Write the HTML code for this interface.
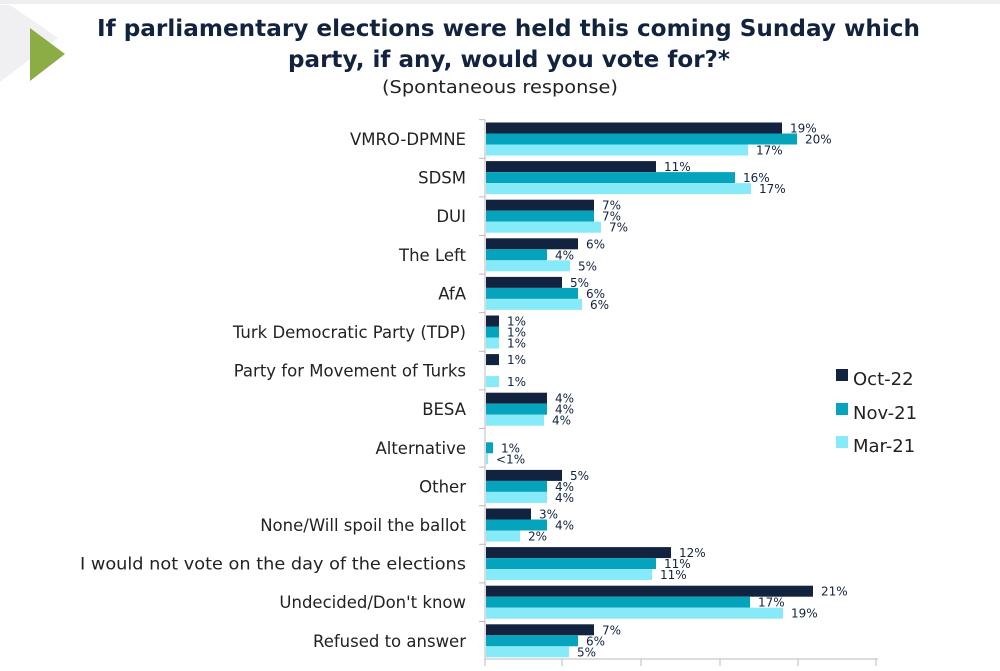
<!DOCTYPE html><html><head><style>body{margin:0;width:1000px;height:666px;background:#fff;overflow:hidden}
svg{font-family:"DejaVu Sans","Liberation Sans",sans-serif}
.l{font-size:16.5px;fill:#222;text-anchor:end}.v{font-size:12px;fill:#12233f}.a{fill:#12233f}.b{fill:#06a3bd}.c{fill:#86eaf9}</style></head><body>
<svg width="1000" height="666" xmlns="http://www.w3.org/2000/svg">
<rect width="1000" height="4" fill="#eee"/>
<polygon points="0,5 0,82 58,38 10,5" fill="#f0f0f2"/>
<polygon points="30,28 30,81 65,54" fill="#8cad45"/>
<g fill="#12233f" font-weight="bold" font-size="23">
<text x="97" y="36" textLength="823" lengthAdjust="spacingAndGlyphs">If parliamentary elections were held this coming Sunday which</text>
<text x="288" y="67" textLength="442" lengthAdjust="spacingAndGlyphs">party, if any, would you vote for?*</text></g>
<text x="382" y="93" font-size="18" fill="#222" textLength="236" lengthAdjust="spacingAndGlyphs">(Spontaneous response)</text>

<g transform="translate(0,122.5)"><text class="l" x="466" y="22.5">VMRO-DPMNE</text><line x1="479" y1="-2.8" x2="485" y2="-2.8" stroke="#bbb"/>
<rect class="a" x="486" y="0" width="296" height="11"/><rect class="b" x="486" y="11" width="311" height="11"/><rect class="c" x="486" y="22" width="262" height="11"/>
<text class="v" x="790" y="10">19%</text><text class="v" x="805" y="21">20%</text><text class="v" x="756" y="32">17%</text></g>

<g transform="translate(0,161.1)"><text class="l" x="466" y="22.5">SDSM</text><line x1="479" y1="-2.8" x2="485" y2="-2.8" stroke="#bbb"/>
<rect class="a" x="486" y="0" width="170" height="11"/><rect class="b" x="486" y="11" width="249" height="11"/><rect class="c" x="486" y="22" width="265" height="11"/>
<text class="v" x="664" y="10">11%</text><text class="v" x="743" y="21">16%</text><text class="v" x="759" y="32">17%</text></g>

<g transform="translate(0,199.7)"><text class="l" x="466" y="22.5">DUI</text><line x1="479" y1="-2.8" x2="485" y2="-2.8" stroke="#bbb"/>
<rect class="a" x="486" y="0" width="108" height="11"/><rect class="b" x="486" y="11" width="108" height="11"/><rect class="c" x="486" y="22" width="115" height="11"/>
<text class="v" x="602" y="10">7%</text><text class="v" x="602" y="21">7%</text><text class="v" x="609" y="32">7%</text></g>

<g transform="translate(0,238.3)"><text class="l" x="466" y="22.5">The Left</text><line x1="479" y1="-2.8" x2="485" y2="-2.8" stroke="#bbb"/>
<rect class="a" x="486" y="0" width="92" height="11"/><rect class="b" x="486" y="11" width="61" height="11"/><rect class="c" x="486" y="22" width="84" height="11"/>
<text class="v" x="586" y="10">6%</text><text class="v" x="555" y="21">4%</text><text class="v" x="578" y="32">5%</text></g>

<g transform="translate(0,276.9)"><text class="l" x="466" y="22.5">AfA</text><line x1="479" y1="-2.8" x2="485" y2="-2.8" stroke="#bbb"/>
<rect class="a" x="486" y="0" width="76" height="11"/><rect class="b" x="486" y="11" width="92" height="11"/><rect class="c" x="486" y="22" width="96" height="11"/>
<text class="v" x="570" y="10">5%</text><text class="v" x="586" y="21">6%</text><text class="v" x="590" y="32">6%</text></g>

<g transform="translate(0,315.5)"><text class="l" x="466" y="22.5">Turk Democratic Party (TDP)</text><line x1="479" y1="-2.8" x2="485" y2="-2.8" stroke="#bbb"/>
<rect class="a" x="486" y="0" width="13" height="11"/><rect class="b" x="486" y="11" width="13" height="11"/><rect class="c" x="486" y="22" width="13" height="11"/>
<text class="v" x="507" y="10">1%</text><text class="v" x="507" y="21">1%</text><text class="v" x="507" y="32">1%</text></g>

<g transform="translate(0,354.1)"><text class="l" x="466" y="22.5">Party for Movement of Turks</text><line x1="479" y1="-2.8" x2="485" y2="-2.8" stroke="#bbb"/>
<rect class="a" x="486" y="0" width="13" height="11"/><rect class="c" x="486" y="22" width="13" height="11"/>
<text class="v" x="507" y="10">1%</text><text class="v" x="507" y="32">1%</text></g>

<g transform="translate(0,392.7)"><text class="l" x="466" y="22.5">BESA</text><line x1="479" y1="-2.8" x2="485" y2="-2.8" stroke="#bbb"/>
<rect class="a" x="486" y="0" width="61" height="11"/><rect class="b" x="486" y="11" width="61" height="11"/><rect class="c" x="486" y="22" width="58" height="11"/>
<text class="v" x="555" y="10">4%</text><text class="v" x="555" y="21">4%</text><text class="v" x="552" y="32">4%</text></g>

<g transform="translate(0,431.3)"><text class="l" x="466" y="22.5">Alternative</text><line x1="479" y1="-2.8" x2="485" y2="-2.8" stroke="#bbb"/>
<rect class="b" x="486" y="11" width="7" height="11"/><rect class="c" x="486" y="22" width="2" height="11"/>
<text class="v" x="501" y="21">1%</text><text class="v" x="496" y="32">&lt;1%</text></g>

<g transform="translate(0,469.9)"><text class="l" x="466" y="22.5">Other</text><line x1="479" y1="-2.8" x2="485" y2="-2.8" stroke="#bbb"/>
<rect class="a" x="486" y="0" width="76" height="11"/><rect class="b" x="486" y="11" width="61" height="11"/><rect class="c" x="486" y="22" width="61" height="11"/>
<text class="v" x="570" y="10">5%</text><text class="v" x="555" y="21">4%</text><text class="v" x="555" y="32">4%</text></g>

<g transform="translate(0,508.5)"><text class="l" x="466" y="22.5">None/Will spoil the ballot</text><line x1="479" y1="-2.8" x2="485" y2="-2.8" stroke="#bbb"/>
<rect class="a" x="486" y="0" width="45" height="11"/><rect class="b" x="486" y="11" width="61" height="11"/><rect class="c" x="486" y="22" width="34" height="11"/>
<text class="v" x="539" y="10">3%</text><text class="v" x="555" y="21">4%</text><text class="v" x="528" y="32">2%</text></g>

<g transform="translate(0,547.1)"><text class="l" x="466" y="22.5" textLength="386" lengthAdjust="spacingAndGlyphs">I would not vote on the day of the elections</text><line x1="479" y1="-2.8" x2="485" y2="-2.8" stroke="#bbb"/>
<rect class="a" x="486" y="0" width="185" height="11"/><rect class="b" x="486" y="11" width="170" height="11"/><rect class="c" x="486" y="22" width="166" height="11"/>
<text class="v" x="679" y="10">12%</text><text class="v" x="664" y="21">11%</text><text class="v" x="660" y="32">11%</text></g>

<g transform="translate(0,585.7)"><text class="l" x="466" y="22.5">Undecided/Don't know</text><line x1="479" y1="-2.8" x2="485" y2="-2.8" stroke="#bbb"/>
<rect class="a" x="486" y="0" width="327" height="11"/><rect class="b" x="486" y="11" width="264" height="11"/><rect class="c" x="486" y="22" width="297" height="11"/>
<text class="v" x="821" y="10">21%</text><text class="v" x="758" y="21">17%</text><text class="v" x="791" y="32">19%</text></g>

<g transform="translate(0,624.3)"><text class="l" x="466" y="22.5">Refused to answer</text><line x1="479" y1="-2.8" x2="485" y2="-2.8" stroke="#bbb"/>
<rect class="a" x="486" y="0" width="108" height="11"/><rect class="b" x="486" y="11" width="92" height="11"/><rect class="c" x="486" y="22" width="83" height="11"/>
<text class="v" x="602" y="10">7%</text><text class="v" x="586" y="21">6%</text><text class="v" x="577" y="32">5%</text></g>

<line x1="485" y1="120" x2="485" y2="660" stroke="#bbb"/>
<line x1="485" y1="659" x2="878" y2="659" stroke="#bbb"/>
<g stroke="#bbb"><line x1="562" y1="659" x2="562" y2="666"/><line x1="641" y1="659" x2="641" y2="666"/><line x1="720" y1="659" x2="720" y2="666"/><line x1="798" y1="659" x2="798" y2="666"/><line x1="876" y1="659" x2="876" y2="666"/><line x1="485" y1="659" x2="485" y2="666"/></g>
<g font-size="18" fill="#222"><rect x="836" y="369" width="12" height="12" fill="#12233f"/><text x="853" y="385">Oct-22</text>
<rect x="836" y="403" width="12" height="12" fill="#06a3bd"/><text x="853" y="419">Nov-21</text>
<rect x="836" y="436" width="12" height="12" fill="#86eaf9"/><text x="853" y="452">Mar-21</text></g>
</svg></body></html>
